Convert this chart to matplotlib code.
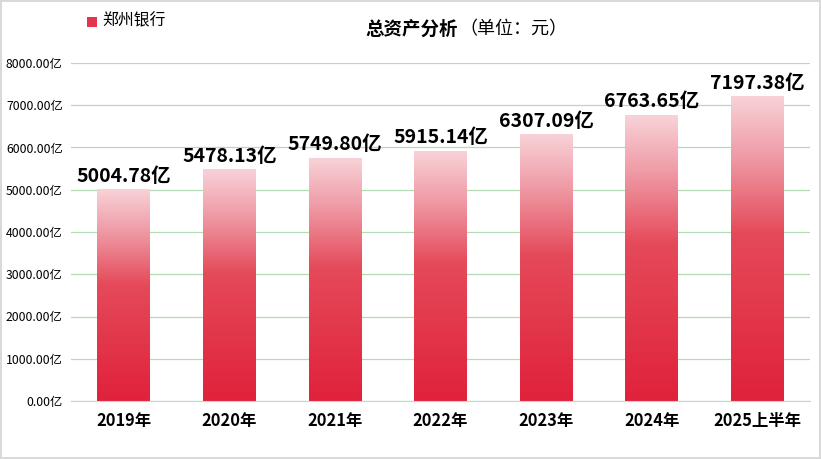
import numpy as np
import matplotlib
matplotlib.use('Agg')
import matplotlib.pyplot as plt
from matplotlib.colors import LinearSegmentedColormap
from matplotlib.patches import Rectangle

plt.rcParams['font.family'] = ['Noto Sans CJK SC', 'DejaVu Sans']

years = ['2019年', '2020年', '2021年', '2022年', '2023年', '2024年', '2025上半年']
assets = [5004.78, 5478.13, 5749.80, 5915.14, 6307.09, 6763.65, 7197.38]
yticks = [0, 1000, 2000, 3000, 4000, 5000, 6000, 7000, 8000]

# bar gradient, bottom -> top
cmap = LinearSegmentedColormap.from_list(
    'bar', [(0, '#e0223b'), (0.55, '#e54a5a'), (0.8, '#ef9aa5'), (1, '#f8d2d8')])
grad = np.linspace(0, 1, 256).reshape(-1, 1)

fig = plt.figure(figsize=(8.21, 4.59), dpi=100)
fig.patch.set_edgecolor('#d9d9d9')
fig.patch.set_linewidth(1.5)
ax = fig.add_axes([71/821, 58/459, 739/821, 338/459])

x = np.arange(len(years))
bars = ax.bar(x, assets, width=0.5, color='none', edgecolor='none')
for b, v in zip(bars, assets):
    x0 = b.get_x()
    w = b.get_width()
    ax.imshow(grad, cmap=cmap, origin='lower', aspect='auto',
              extent=[x0, x0 + w, 0, v], zorder=2)
    ax.text(x0 + w / 2, v + 90, f'{v:.2f}亿', ha='center', va='bottom',
            fontsize=14, fontweight='bold', color='black', zorder=3)

ax.set_xlim(-0.5, len(years) - 0.5)
ax.set_ylim(0, 8000)
ax.set_yticks(yticks)
ax.set_yticklabels([f'{t:.2f}亿' for t in yticks], fontsize=8.8)
ax.set_xticks(x)
ax.set_xticklabels(years, fontsize=11.8, fontweight='bold')
ax.tick_params(axis='both', length=0)
ax.tick_params(axis='y', pad=6)
ax.tick_params(axis='x', pad=8)
ax.grid(axis='y', color='#b5dbb5', linewidth=0.9, zorder=0)
ax.set_axisbelow(True)
for s in ['top', 'right', 'left']:
    ax.spines[s].set_visible(False)
ax.spines['bottom'].set_color('#d0d0d0')

# legend
fig.patches.append(Rectangle((87/821, 1 - 27/459), 10/821, 10/459,
                             transform=fig.transFigure, facecolor='#e3354e',
                             edgecolor='none'))
fig.text(102/821, 1 - 21/459, '郑州银行', fontsize=11.4, va='center', ha='left')

# title
fig.text(458/821, 1 - 29/459, '总资产分析', fontsize=13.3, fontweight='bold',
         ha='right', va='center')
fig.text(459/821, 1 - 29/459, '（单位：元）', fontsize=13, ha='left', va='center')

fig.savefig('out.png', dpi=100)
